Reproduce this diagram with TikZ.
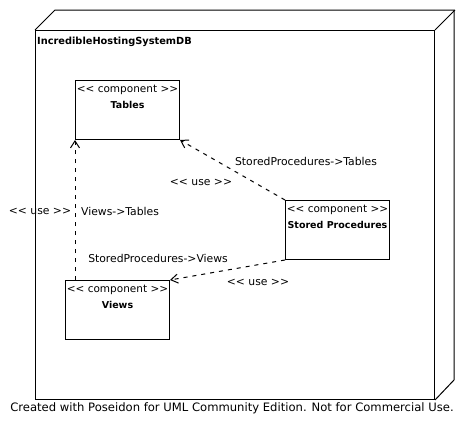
\documentclass[tikz,border=0pt]{standalone}
\usepackage{fontspec}
\setmainfont{DejaVu Sans}
\usetikzlibrary{positioning,arrows.meta}

\newcommand{\guil}[1]{<{}<~#1~>{}>}

\tikzset{
  comp/.style={draw, line width=1pt, minimum width=104pt, minimum height=59pt, anchor=north west, inner sep=0pt},
  stereo/.style={font=\fontsize{10.5}{12}\selectfont, inner sep=0pt},
  compname/.style={font=\fontsize{9.5}{11}\selectfont\bfseries, inner sep=0pt},
  usedep/.style={line width=1pt, dash pattern=on 4pt off 5pt, -{Straight Barb[length=7pt,width=9pt]}},
  lbl/.style={font=\fontsize{10.8}{12}\selectfont, inner sep=0pt}
}

\begin{document}
\begin{tikzpicture}[x=1pt,y=-1pt]
    \useasboundingbox (0,0) rectangle (466,431);
    % deployment node
    \node[draw, line width=1pt, minimum width=399pt, minimum height=369pt, anchor=north west, inner sep=0pt] (dbnode) at (35,30) {};
    \draw[line width=1pt] (dbnode.north west) -- ++(20,-20) -- ++(399,0) -- ++(0,370) -- (dbnode.south east);
    \draw[line width=1pt] (dbnode.north east) -- ++(20,-20);
    \node[compname, font=\fontsize{9.8}{11}\selectfont\bfseries, anchor=west] (dbtitle) at (37,42) {IncredibleHostingSystemDB};

    % components
    \node[comp] (tables) at (75,80) {};
    \node[stereo, below=5pt of tables.north] (tablesst) {\guil{component}};
    \node[compname, below=6pt of tablesst] (tablesnm) {Tables};

    \node[comp] (storedproc) at (285,200) {};
    \node[stereo, below=5pt of storedproc.north] (storedprocst) {\guil{component}};
    \node[compname, below=6pt of storedprocst] (storedprocnm) {Stored Procedures};

    \node[comp] (views) at (65,280) {};
    \node[stereo, below=5pt of views.north] (viewsst) {\guil{component}};
    \node[compname, below=6pt of viewsst] (viewsnm) {Views};

    % dependencies
    \draw[usedep] (views.north -| tables.south west) -- (tables.south west);
    \draw[usedep] (storedproc.north west) -- (tables.south east);
    \draw[usedep] (storedproc.south west) -- (views.north east);

    \node[lbl] (vtuse) at (40,211) {\guil{use}};
    \node[lbl] (vtname) at (120,211) {Views->Tables};
    \node[lbl] (sptname) at (306,161) {StoredProcedures->Tables};
    \node[lbl] (sptuse) at (201,182) {\guil{use}};
    \node[lbl] (spvname) at (158,258) {StoredProcedures->Views};
    \node[lbl] (spvuse) at (258,282) {\guil{use}};

    \node[font=\fontsize{11.6}{13}\selectfont, inner sep=0pt] (credit) at (232,408) {Created with Poseidon for UML Community Edition. Not for Commercial Use.};
\end{tikzpicture}
\end{document}
